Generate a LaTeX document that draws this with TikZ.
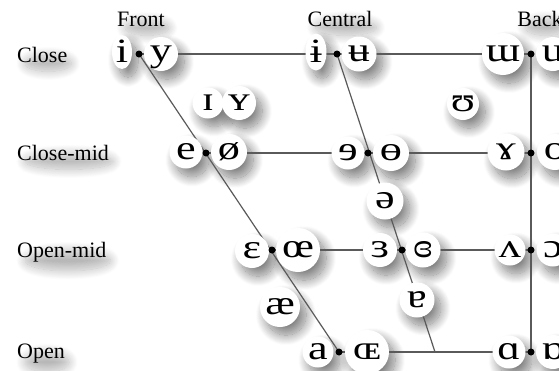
\documentclass[tikz,border=0pt]{standalone}
\usepackage{fontspec}
\setmainfont{Liberation Serif}
\newfontfamily\ipafont[FakeStretch=1.3]{Liberation Serif}
\usetikzlibrary{shapes.geometric,shadows.blur,calc}
\pgfdeclarelayer{paper}
\pgfdeclarelayer{shades}
\pgfdeclarelayer{lines}
\pgfsetlayers{paper,shades,lines,main}
\definecolor{paper}{HTML}{E9E9E9}
\definecolor{rule}{HTML}{5A5A5A}

\begin{document}
\begin{tikzpicture}[x=1pt,y=-1pt,
  bubbleshade/.style={blur shadow={shadow xshift=6pt, shadow yshift=-8pt,
      shadow blur radius=10pt, shadow blur steps=20, shadow opacity=50}},
  textshade/.style={blur shadow={shadow xshift=6pt, shadow yshift=-9pt,
      shadow blur radius=9pt, shadow blur steps=20, shadow opacity=28}},
  vowel/.style={circle, fill=white, inner sep=0pt, minimum size=#1,
      font=\fontsize{34}{34}\ipafont, text height=15.3pt, text depth=0pt},
  tallvowel/.style n args={2}{ellipse, fill=white, inner sep=0pt,
      minimum width=#1, minimum height=#2,
      font=\fontsize{34}{34}\ipafont, text height=20pt, text depth=0pt},
  joint/.style={circle, fill=black, inner sep=0pt, minimum size=7pt},
  heading/.style={font=\fontsize{22}{22}\selectfont, inner sep=0pt, anchor=base},
  rowlabel/.style={heading, anchor=base west},
  chart/.style={draw=rule, line width=1.2pt}]

\useasboundingbox (0,0) rectangle (559,370);
\begin{pgfonlayer}{paper}
  \fill[paper] (0,0) rectangle (559,370);
\end{pgfonlayer}

% column and row headings
\node[heading] (hfront) at (141,26) {Front};
\node[heading] (hcentral) at (340,26) {Central};
\node[heading] (hback) at (540,26) {Back};
\node[rowlabel] (rclose) at (17,62) {Close};
\node[rowlabel] (rclosemid) at (17,160) {Close-mid};
\node[rowlabel] (ropenmid) at (17,257) {Open-mid};
\node[rowlabel] (ropen) at (17,358) {Open};

% close
\node[tallvowel={20pt}{34pt}] (vi) at (122,52) {i};
\node[vowel=34pt] (vy) at (161,54) {y};
\node[tallvowel={21pt}{37pt}] (vbari) at (316,52) {ɨ};
\node[vowel=35pt] (vbaru) at (359,54) {ʉ};
\node[vowel=42pt] (vturm) at (503,54) {ɯ};
\node[vowel=34pt] (vu) at (553,54) {u};
% near-close
\node[vowel=31pt] (vsmi) at (208,103) {ɪ};
\node[vowel=34pt] (vsmy) at (239,103) {ʏ};
\node[vowel=32pt] (vups) at (463,104) {ʊ};
% close-mid
\node[vowel=33pt] (ve) at (186,152) {e};
\node[vowel=36pt] (vslo) at (229,152) {ø};
\node[vowel=33pt] (vreve) at (348,153) {ɘ};
\node[vowel=36pt] (vbaro) at (391,153) {ɵ};
\node[vowel=37pt] (vgam) at (506,152) {ɤ};
\node[vowel=36pt] (vo) at (555,152) {o};
% mid
\node[vowel=37pt] (vschwa) at (385,201) {ə};
% open-mid
\node[vowel=34pt] (veps) at (252,251) {ɛ};
\node[vowel=44pt] (voe) at (298,250) {œ};
\node[vowel=34pt] (vreveps) at (380,250) {ɜ};
\node[vowel=35pt] (vcloeps) at (423,250) {ɞ};
\node[vowel=31pt] (vturv) at (510,250) {ʌ};
\node[vowel=33pt] (vopeno) at (553,250) {ɔ};
% near-open
\node[vowel=40pt] (vae) at (280,307) {æ};
\node[vowel=35pt] (vtura) at (417,300) {ɐ};
% open
\node[vowel=31pt] (va) at (318,352) {a};
\node[vowel=44pt] (vscoe) at (367,352) {ɶ};
\node[vowel=33pt] (valpha) at (509,352) {ɑ};
\node[vowel=34pt] (vturalpha) at (553,352) {ɒ};

% joints where the rows meet the three columns
\node[joint] (dfc)  at (139,54) {};
\node[joint] (dcc)  at (337,54) {};
\node[joint] (dbc)  at (531,54) {};
\node[joint] (dfcm) at (206,153) {};
\node[joint] (dccm) at (368,153) {};
\node[joint] (dbcm) at (531,153) {};
\node[joint] (dfom) at (272,250) {};
\node[joint] (dcom) at (402,250) {};
\node[joint] (dbom) at (531,250) {};
\node[joint] (dfo)  at (339,352) {};
\node[joint] (dbo)  at (531,352) {};
\coordinate (cbot) at (435,352);

% soft drop shadows, kept below the grid lines
\begin{pgfonlayer}{shades}
  % the first blur fading is set up well off the page
  \path[bubbleshade] (-300,-300) circle [radius=5];
  \foreach \v in {vi,vy,vbari,vbaru,vturm,vu,vsmi,vsmy,vups,ve,vslo,vreve,
                  vbaro,vgam,vo,vschwa,veps,voe,vreveps,vcloeps,vturv,vopeno,
                  vae,vtura,va,vscoe,valpha,vturalpha}
    \path[bubbleshade] let \p1=(\v.center), \p2=(\v.east), \p3=(\v.north) in
      (\p1) ellipse [x radius={\x2-\x1}, y radius={\y3-\y1}];
  \foreach \v in {hfront,hcentral,hback,rclose,rclosemid,ropenmid,ropen}
    \path[textshade] let \p1=(\v.center), \p2=(\v.east), \p3=(\v.north) in
      (\p1) ellipse [x radius={\x2-\x1-2pt}, y radius={\y3-\y1}];
\end{pgfonlayer}

% the trapezoid grid, behind the bubbles
\begin{pgfonlayer}{lines}
  \draw[chart] (dfc.center) -- (dfo.center);
  \draw[chart] (dcc.center) -- (cbot);
  \draw[chart] (dbc.center) -- (dbo.center);
  \draw[chart] (dfc.center) -- (dbc.center);
  \draw[chart] (dfcm.center) -- (dbcm.center);
  \draw[chart] (dfom.center) -- (dbom.center);
  \draw[chart] (dfo.center) -- (dbo.center);
\end{pgfonlayer}
\end{tikzpicture}
\end{document}
